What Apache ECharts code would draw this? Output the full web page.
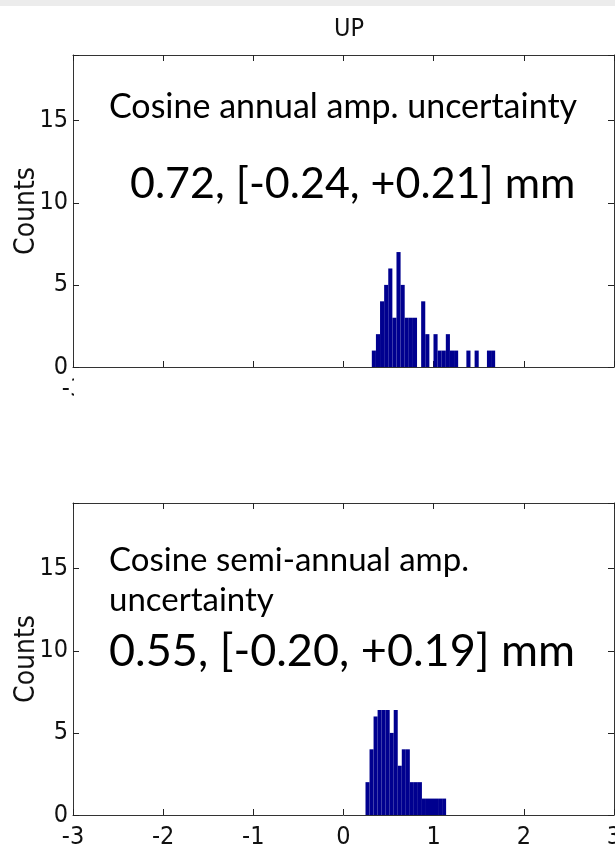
<!DOCTYPE html>
<html>
<head>
<meta charset="utf-8">
<script src="https://cdn.jsdelivr.net/npm/echarts@6/dist/echarts.min.js"></script>
<style>
html,body{margin:0;padding:0;background:#fff;}
#chart{width:615px;height:849px;}
</style>
</head>
<body>
<div id="chart"></div>
<script>
// ---- data ----
const titleText = 'UP';
const yAxisName = 'Counts';
// top panel: cosine annual amplitude uncertainty histogram
const annualBinStart = 0.314;
const annualBinWidth = 0.0456;
const annualCounts = [1,2,4,5,6,3,7,5,3,3,3,0,4,2,0,2,1,1,2,1,1,0,0,1,0,1,0,0,1,1];
// bottom panel: cosine semi-annual amplitude uncertainty histogram
const semiBinStart = 0.244;
const semiBinWidth = 0.0447;
const semiCounts = [2,4,6,7,7,7,5,7,3,4,4,2,2,2,1,1,1,1,1,1];
const annualLabel1 = 'Cosine annual amp. uncertainty';
const annualLabel2 = '0.72, [-0.24, +0.21] mm';
const semiLabel1 = 'Cosine semi-annual amp.';
const semiLabel2 = 'uncertainty';
const semiLabel3 = '0.55, [-0.20, +0.19] mm';

function toBins(start, width, counts){
  return counts.map((c,i)=>[start + i*width, start + (i+1)*width, c]);
}

const axisColor = '#333';
const narrow = "'Liberation Sans Narrow','DejaVu Sans Condensed','Liberation Sans',sans-serif";
const tickFont = {fontFamily:narrow, fontSize:25, color:'#111'};

function renderItem(params, api){
  const p0 = api.coord([api.value(0), api.value(2)]);
  const p1 = api.coord([api.value(1), 0]);
  return {type:'rect', shape:{x:p0[0], y:p0[1], width:p1[0]-p0[0], height:p1[1]-p0[1]},
          style:{fill:'#00008F'}};
}

const grids = [
  {left:73, right:1, top:55, height:312, outerBoundsMode:'none', containLabel:false},
  {left:73, right:1, top:503, height:312, outerBoundsMode:'none', containLabel:false}
];

function tick(){ return {show:true, inside:true, length:6, lineStyle:{color:'#222', width:1}}; }
function xAxes(gi){
  return [
    {type:'value', gridIndex:gi, min:-3, max:3, interval:1, position:'bottom',
     axisLine:{show:true, onZero:false, lineStyle:{color:axisColor, width:1}},
     axisTick:tick(),
     axisLabel:{show:true, margin:10, ...tickFont},
     splitLine:{show:false}},
    {type:'value', gridIndex:gi, min:-3, max:3, interval:1, position:'top',
     axisLine:{show:true, onZero:false, lineStyle:{color:axisColor, width:1}},
     axisTick:tick(),
     axisLabel:{show:false}, splitLine:{show:false}}
  ];
}
function yAxes(gi){
  return [
    {type:'value', gridIndex:gi, min:0, max:19, interval:5, position:'left',
     name:yAxisName, nameLocation:'middle', nameGap:32, nameRotate:90, nameMoveOverlap:false,
     nameTextStyle:{fontFamily:narrow, fontSize:28, color:'#111'},
     axisLine:{show:true, onZero:false, lineStyle:{color:axisColor, width:1}},
     axisTick:tick(),
     axisLabel:{show:true, margin:5, ...tickFont, formatter:v=>(v%5===0?String(v):'')},
     splitLine:{show:false}},
    {type:'value', gridIndex:gi, min:0, max:19, interval:5, position:'right',
     axisLine:{show:true, onZero:false, lineStyle:{color:axisColor, width:1}},
     axisTick:tick(),
     axisLabel:{show:true, formatter:()=>''}, splitLine:{show:false}}
  ];
}

const textFont = 'Lato';
const option = {
  animation:false,
  backgroundColor:'#fff',
  title:{text:titleText, left:344, top:12, textAlign:'center',
         textStyle:{fontFamily:narrow, fontSize:25, fontWeight:'normal', color:'#111'}},
  grid:grids,
  xAxis:[...xAxes(0), ...xAxes(1)],
  yAxis:[...yAxes(0), ...yAxes(1)],
  series:[
    {type:'custom', xAxisIndex:0, yAxisIndex:0, renderItem, data:toBins(annualBinStart, annualBinWidth, annualCounts), z:2},
    {type:'custom', xAxisIndex:2, yAxisIndex:2, renderItem, data:toBins(semiBinStart, semiBinWidth, semiCounts), z:2}
  ],
  graphic:[
    {type:'rect', left:0, top:0, shape:{width:615, height:6}, style:{fill:'#ececec'}, z:100},
    // white slide box hiding the upper panel's tick labels
    {type:'rect', left:74, top:369, shape:{width:541, height:50}, style:{fill:'#fff'}, z:100},
    // white text box of the lower panel
    {type:'rect', left:80, top:530, shape:{width:527, height:180}, style:{fill:'#fff'}, z:100},
    {type:'text', x:109, y:107, style:{text:annualLabel1, font:'34px '+textFont, fill:'#000', verticalAlign:'middle'}, z:101},
    {type:'text', x:130, y:184, style:{text:annualLabel2, font:'43px '+textFont, fill:'#000', verticalAlign:'middle'}, z:101},
    {type:'text', x:109, y:560, style:{text:semiLabel1, font:'33px '+textFont, fill:'#000', verticalAlign:'middle'}, z:101},
    {type:'text', x:109, y:600, style:{text:semiLabel2, font:'33px '+textFont, fill:'#000', verticalAlign:'middle'}, z:101},
    {type:'text', x:109, y:651, style:{text:semiLabel3, font:'45px '+textFont, fill:'#000', verticalAlign:'middle'}, z:101}
  ]
};
const chart = echarts.init(document.getElementById('chart'), null, {renderer:'canvas'});
chart.setOption(option);
</script>
</body>
</html>
